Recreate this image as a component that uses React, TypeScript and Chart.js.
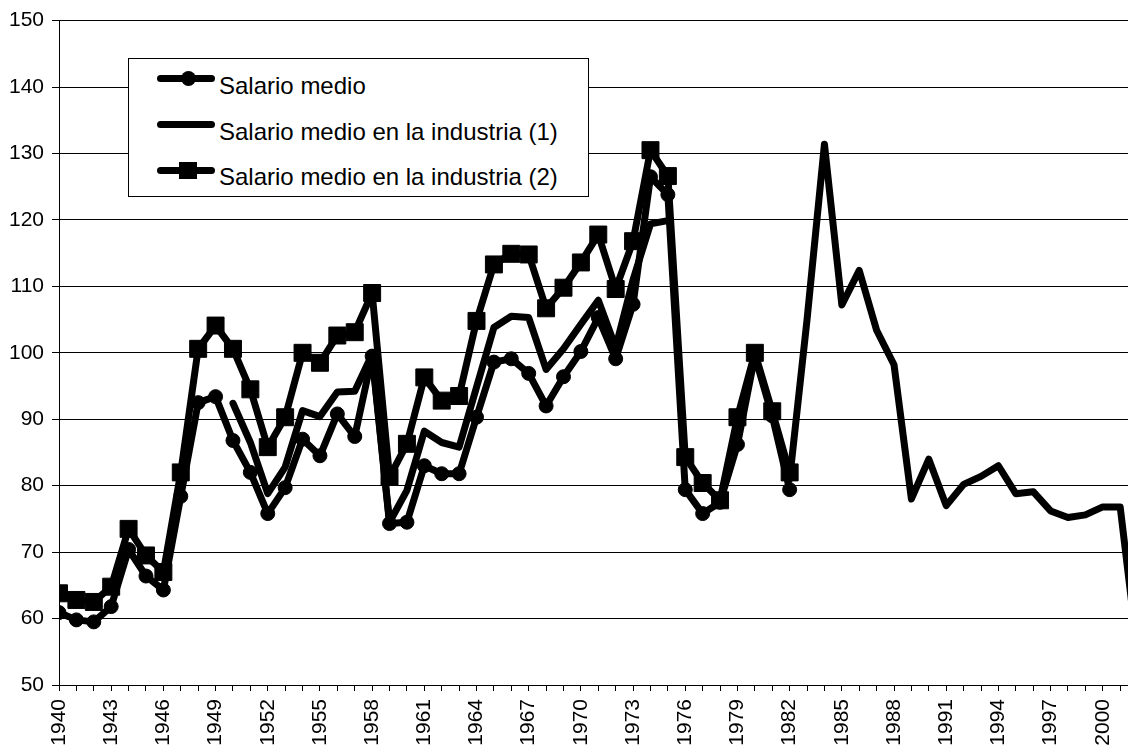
import React, { useEffect, useRef } from 'react';
import { Chart, registerables } from 'chart.js';

Chart.register(...registerables);

const years = [
  1940, 1941, 1942, 1943, 1944, 1945, 1946, 1947, 1948, 1949,
  1950, 1951, 1952, 1953, 1954, 1955, 1956, 1957, 1958, 1959,
  1960, 1961, 1962, 1963, 1964, 1965, 1966, 1967, 1968, 1969,
  1970, 1971, 1972, 1973, 1974, 1975, 1976, 1977, 1978, 1979,
  1980, 1981, 1982, 1983, 1984, 1985, 1986, 1987, 1988, 1989,
  1990, 1991, 1992, 1993, 1994, 1995, 1996, 1997, 1998, 1999,
  2000, 2001, 2002,
];

const tickYears = [
  1940, 1943, 1946, 1949, 1952, 1955, 1958, 1961, 1964, 1967, 1970,
  1973, 1976, 1979, 1982, 1985, 1988, 1991, 1994, 1997, 2000,
];

const salarioMedio: (number | null)[] = [
  60.9, 59.8, 59.5, 61.8, 70.4, 66.4, 64.3, 78.4, 92.5, 93.4,
  86.8, 82.0, 75.8, 79.7, 87.0, 84.5, 90.8, 87.4, 99.5, 74.3,
  74.5, 83.0, 81.8, 81.8, 90.3, 98.6, 99.1, 96.9, 92.0, 96.4,
  100.2, 105.3, 99.1, 107.3, 126.5, 123.8, 79.4, 75.8, 77.5, 86.2,
  99.5, 90.5, 79.4, null, null, null, null, null, null, null,
  null, null, null, null, null, null, null, null, null, null,
  null, null, null,
];

const salarioIndustria1: (number | null)[] = [
  null, null, null, null, null, null, null, null, null, null,
  92.4, 86.5, 78.8, 82.8, 91.3, 90.4, 94.1, 94.2, 99.8, 74.5,
  79.3, 88.2, 86.5, 85.8, 94.8, 103.8, 105.5, 105.3, 97.5, 100.6,
  104.3, 107.9, 100.8, 111.0, 119.4, 119.9, null, null, null, null,
  null, null, 81.0, 105.0, 131.4, 107.2, 112.4, 103.4, 98.2, 78.0,
  84.0, 77.0, 80.2, 81.4, 83.0, 78.8, 79.1, 76.2, 75.2, 75.6,
  76.8, 76.8, 55.0,
];

const salarioIndustria2: (number | null)[] = [
  63.8, 62.8, 62.5, 64.8, 73.5, 69.5, 67.0, 82.0, 100.6, 104.1,
  100.6, 94.5, 85.8, 90.3, 100.0, 98.5, 102.6, 103.1, 109.0, 81.3,
  86.3, 96.3, 92.8, 93.5, 104.8, 113.3, 114.9, 114.8, 106.7, 109.8,
  113.6, 117.8, 109.6, 116.8, 130.5, 126.6, 84.3, 80.4, 77.8, 90.3,
  100.0, 91.2, 82.0, null, null, null, null, null, null, null,
  null, null, null, null, null, null, null, null, null, null,
  null, null, null,
];

const seriesLabels = [
  'Salario medio',
  'Salario medio en la industria (1)',
  'Salario medio en la industria (2)',
];

const FONT = '"Liberation Sans", Arial, Helvetica, sans-serif';

function toPoints(values: (number | null)[]) {
  return years.map((yr, i) => ({ x: yr, y: values[i] }));
}

export default function App() {
  const canvasRef = useRef<HTMLCanvasElement | null>(null);

  useEffect(() => {
    if (!canvasRef.current) return;
    const common = {
      borderColor: '#000',
      backgroundColor: '#000',
      borderWidth: 7,
      borderJoinStyle: 'round' as const,
      borderCapStyle: 'round' as const,
      tension: 0,
      spanGaps: false,
      pointBackgroundColor: '#000',
      pointBorderColor: '#000',
      pointBorderWidth: 1,
      pointHoverRadius: 0,
    };
    const chart = new Chart(canvasRef.current, {
      type: 'line',
      data: {
        datasets: [
          {
            ...common,
            label: seriesLabels[0],
            data: toPoints(salarioMedio) as any,
            pointStyle: 'circle',
            pointRadius: 7,
            order: 2,
          },
          {
            ...common,
            label: seriesLabels[1],
            data: toPoints(salarioIndustria1) as any,
            pointRadius: 0,
            order: 1,
          },
          {
            ...common,
            label: seriesLabels[2],
            data: toPoints(salarioIndustria2) as any,
            pointStyle: 'rect',
            pointRadius: 12,
            order: 0,
          },
        ],
      },
      options: {
        animation: false,
        responsive: false,
        maintainAspectRatio: false,
        events: [],
        layout: { autoPadding: false, padding: { top: 19, right: 0, left: 0, bottom: 0 } },
        plugins: {
          legend: { display: false },
          tooltip: { enabled: false },
          title: { display: false },
        },
        scales: {
          x: {
            type: 'linear',
            min: 1940,
            max: 2001.45,
            bounds: 'data',
            afterFit: (scale: any) => {
              scale.height = 63;
              scale.paddingRight = 0;
              scale.paddingLeft = 0;
            },
            ticks: {
              stepSize: 1,
              autoSkip: false,
              includeBounds: false,
              minRotation: 90,
              maxRotation: 90,
              padding: 8,
              color: '#000',
              font: { family: FONT, size: 21 },
              callback: (v: any) => {
                const n = Math.round(Number(v));
                return tickYears.includes(n) ? String(n) : '';
              },
            },
            grid: {
              drawOnChartArea: false,
              drawTicks: true,
              tickLength: 6,
              color: '#000',
              lineWidth: 1,
            },
            border: { color: '#000', width: 1 },
          },
          y: {
            type: 'linear',
            min: 50,
            max: 150,
            afterFit: (scale: any) => {
              scale.width = 59;
            },
            ticks: {
              stepSize: 10,
              padding: 8,
              color: '#000',
              font: { family: FONT, size: 21 },
            },
            grid: {
              color: '#000',
              lineWidth: 1,
              tickLength: 7,
            },
            border: { color: '#000', width: 1 },
          },
        },
      },
    });
    return () => chart.destroy();
  }, []);

  const lineStyle = (cy: number): React.CSSProperties => ({
    position: 'absolute',
    left: 157,
    top: cy - 3.5,
    width: 58,
    height: 7,
    borderRadius: 3.5,
    background: '#000',
  });

  const textStyle = (baseline: number): React.CSSProperties => ({
    position: 'absolute',
    left: 219,
    top: baseline - 20.3,
    fontFamily: FONT,
    fontSize: 24,
    lineHeight: '24px',
    color: '#000',
    whiteSpace: 'nowrap',
  });

  return (
    <div
      style={{
        position: 'fixed',
        left: 0,
        top: 0,
        width: 1128,
        height: 748,
        overflow: 'hidden',
        background: '#fff',
      }}
    >
      <canvas ref={canvasRef} width={1128} height={748} style={{ display: 'block' }} />
      <div
        style={{
          position: 'absolute',
          left: 128,
          top: 58,
          width: 461,
          height: 139,
          boxSizing: 'border-box',
          border: '1px solid #000',
          background: '#fff',
        }}
      />
      <div style={lineStyle(78)} />
      <div
        style={{
          position: 'absolute',
          left: 188 - 7.5,
          top: 78 - 7.5,
          width: 15,
          height: 15,
          borderRadius: '50%',
          background: '#000',
        }}
      />
      <div style={textStyle(94)}>{seriesLabels[0]}</div>
      <div style={lineStyle(124)} />
      <div style={textStyle(140)}>{seriesLabels[1]}</div>
      <div style={lineStyle(170)} />
      <div
        style={{
          position: 'absolute',
          left: 188 - 9,
          top: 170 - 8.5,
          width: 18,
          height: 17,
          background: '#000',
        }}
      />
      <div style={textStyle(185)}>{seriesLabels[2]}</div>
    </div>
  );
}
